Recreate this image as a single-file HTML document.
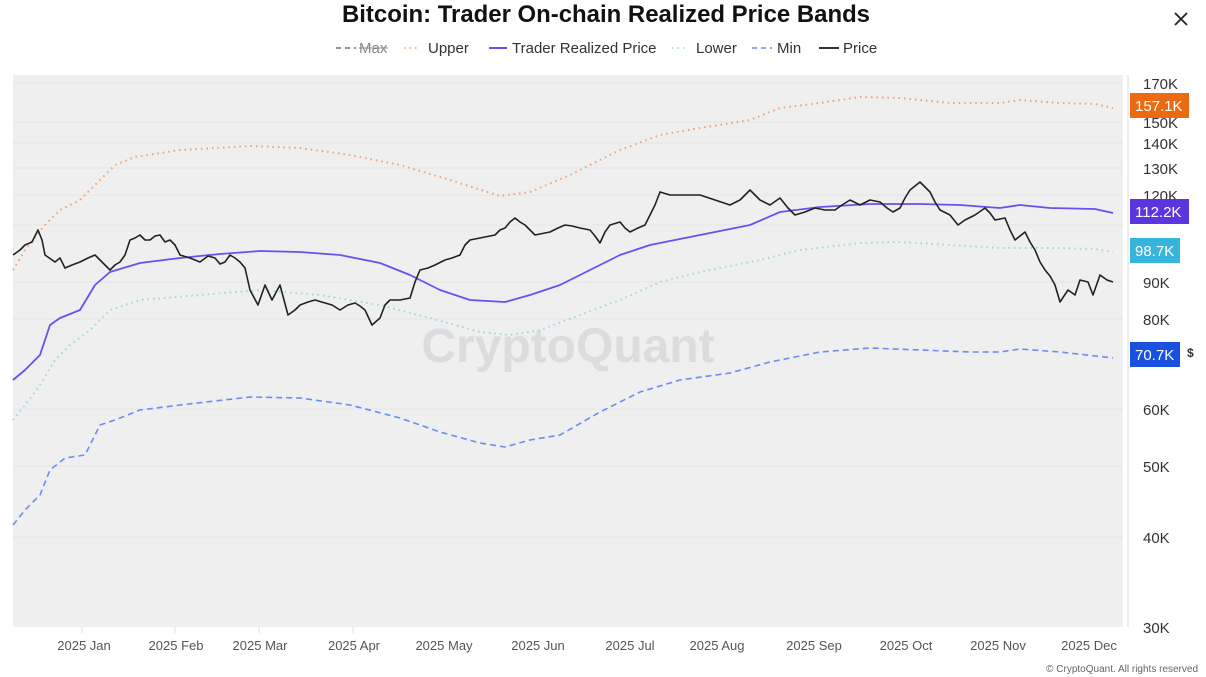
<!DOCTYPE html>
<html><head><meta charset="utf-8"><style>
html,body{margin:0;padding:0;background:#fff;width:1206px;height:677px;overflow:hidden;font-family:"Liberation Sans",sans-serif}
</style></head><body>
<svg width="1206" height="677" xmlns="http://www.w3.org/2000/svg" font-family="Liberation Sans, sans-serif">
<text x="606" y="22" text-anchor="middle" font-size="24" font-weight="bold" fill="#111" textLength="528" lengthAdjust="spacingAndGlyphs">Bitcoin: Trader On-chain Realized Price Bands</text>
<path d="M1175 13 L1187 25 M1187 13 L1175 25" stroke="#222" stroke-width="1.8"/>
<g font-size="15" fill="#333">
<line x1="336" y1="48" x2="356" y2="48" stroke="#777" stroke-width="1.5" stroke-dasharray="5,4"/>
<text x="359" y="53" fill="#888">Max</text><line x1="359" y1="48" x2="388" y2="48" stroke="#888" stroke-width="1"/>
<line x1="404" y1="48" x2="420" y2="48" stroke="#f0a070" stroke-width="1.5" stroke-dasharray="1.5,4"/>
<text x="428" y="53">Upper</text>
<line x1="489" y1="48" x2="507" y2="48" stroke="#6b4ff0" stroke-width="2"/>
<text x="512" y="53">Trader Realized Price</text>
<line x1="672" y1="48" x2="688" y2="48" stroke="#9bd6e6" stroke-width="1.5" stroke-dasharray="1.5,4"/>
<text x="696" y="53">Lower</text>
<line x1="752" y1="48" x2="772" y2="48" stroke="#6b8cf0" stroke-width="1.5" stroke-dasharray="5,4"/>
<text x="777" y="53">Min</text>
<line x1="819" y1="48" x2="839" y2="48" stroke="#333" stroke-width="2"/>
<text x="843" y="53">Price</text>
</g>
<rect x="13" y="75" width="1110" height="552" fill="#efefef"/>
<line x1="1128" y1="75" x2="1128" y2="627" stroke="#ddd"/>
<g stroke="#e4e4e4" stroke-width="1">
<line x1="13" y1="83" x2="1123" y2="83"/><line x1="13" y1="122" x2="1123" y2="122"/>
<line x1="13" y1="143" x2="1123" y2="143"/><line x1="13" y1="168" x2="1123" y2="168"/>
<line x1="13" y1="195" x2="1123" y2="195"/><line x1="13" y1="225" x2="1123" y2="225"/>
<line x1="13" y1="282" x2="1123" y2="282"/><line x1="13" y1="319" x2="1123" y2="319"/>
<line x1="13" y1="409" x2="1123" y2="409"/><line x1="13" y1="466" x2="1123" y2="466"/>
<line x1="13" y1="537" x2="1123" y2="537"/>
</g>
<text x="568" y="362" text-anchor="middle" font-size="48" fill="#dcdcde" font-weight="bold">CryptoQuant</text>
<g font-size="15" fill="#333">
<text x="1143" y="89">170K</text><text x="1143" y="128">150K</text><text x="1143" y="149">140K</text>
<text x="1143" y="174">130K</text><text x="1143" y="201">120K</text><text x="1143" y="288">90K</text>
<text x="1143" y="325">80K</text><text x="1143" y="415">60K</text><text x="1143" y="472">50K</text>
<text x="1143" y="543">40K</text><text x="1143" y="633">30K</text>
</g>
<g font-size="13" fill="#555" text-anchor="middle">
<text x="84" y="650">2025 Jan</text><text x="176" y="650">2025 Feb</text><text x="260" y="650">2025 Mar</text>
<text x="354" y="650">2025 Apr</text><text x="444" y="650">2025 May</text><text x="538" y="650">2025 Jun</text>
<text x="630" y="650">2025 Jul</text><text x="717" y="650">2025 Aug</text><text x="814" y="650">2025 Sep</text>
<text x="906" y="650">2025 Oct</text><text x="998" y="650">2025 Nov</text><text x="1089" y="650">2025 Dec</text>
</g>
<g stroke="#ddd"><line x1="82" y1="627" x2="82" y2="633"/><line x1="175" y1="627" x2="175" y2="633"/><line x1="259" y1="627" x2="259" y2="633"/><line x1="353" y1="627" x2="353" y2="633"/></g>
<text x="1198" y="672" text-anchor="end" font-size="10" fill="#666">© CryptoQuant. All rights reserved</text>
<g fill="none" stroke-linejoin="round">
<polyline stroke="#f0a070" stroke-width="2" stroke-dasharray="1.5,4" points="13,270 25,250 45,225 60,210 80,200 100,180 115,165 135,157 180,150 250,146 300,148 350,155 400,165 450,180 500,196 530,192 570,175 620,150 660,135 700,128 750,120 780,108 820,103 860,97 900,98 950,103 1000,103 1020,100 1060,103 1095,104 1113,108"/>
<polyline stroke="#9bd6e6" stroke-width="2" stroke-dasharray="1.5,4" points="13,420 25,405 40,385 55,360 70,345 90,330 110,310 140,300 200,295 260,290 320,295 380,305 430,318 480,332 510,335 540,330 580,315 620,300 660,282 700,272 760,260 800,250 860,243 900,242 950,245 1000,248 1050,248 1095,249 1113,252"/>
<polyline stroke="#6b8cf0" stroke-width="1.6" stroke-dasharray="6,4" points="13,525 25,510 40,495 50,470 65,458 85,455 100,425 115,420 140,410 180,405 250,397 300,398 350,405 400,418 440,432 480,443 505,447 530,440 560,435 600,412 640,392 680,380 730,373 770,362 820,352 870,348 920,350 970,352 1000,352 1020,349 1060,352 1113,358"/>
<polyline stroke="#6b4ff0" stroke-width="1.8" points="13,380 25,370 40,355 50,325 60,318 80,310 95,285 110,272 140,263 180,258 220,254 260,251 300,252 340,255 380,263 410,275 440,290 470,300 505,302 530,295 560,285 590,270 620,255 650,245 700,235 750,225 780,212 820,207 870,204 920,204 960,205 1000,208 1020,205 1050,208 1095,209 1113,213"/>
<polyline stroke="#222" stroke-width="1.6" points="13,255 20,250 25,245 32,242 38,230 42,240 45,255 55,262 60,258 65,268 72,265 80,262 88,258 95,255 102,262 110,270 115,265 120,262 125,255 130,240 135,238 140,235 145,240 150,240 155,236 160,235 165,242 170,240 175,245 180,255 190,258 200,262 208,256 215,258 220,264 225,262 230,255 235,258 240,262 245,268 250,290 258,305 265,285 272,300 280,285 288,315 295,310 300,305 308,302 315,300 325,303 332,305 340,310 348,305 355,303 360,306 365,310 372,325 380,318 385,305 390,300 400,300 410,298 415,282 420,270 428,268 435,265 445,260 452,258 460,255 465,245 470,240 480,238 495,235 500,230 505,228 510,222 515,218 520,222 525,225 530,230 535,235 545,233 550,232 558,228 565,225 572,226 580,228 590,230 595,236 600,243 605,232 610,225 620,222 625,228 630,232 638,228 645,225 650,215 655,205 660,192 670,195 685,195 700,195 715,200 730,205 740,200 745,195 750,190 755,195 760,200 770,205 780,198 788,208 795,215 805,212 815,208 825,210 835,210 842,205 850,200 860,205 870,200 880,202 887,208 893,212 900,208 905,198 910,190 920,182 925,187 930,192 935,202 940,210 950,215 958,225 965,220 975,215 985,208 990,213 995,220 1005,218 1010,230 1015,240 1025,232 1030,242 1035,250 1040,262 1045,270 1050,276 1055,285 1060,302 1068,290 1075,295 1080,280 1088,282 1093,295 1100,275 1107,280 1113,282"/>
</g>
<g font-size="15" fill="#fff">
<rect x="1130" y="93" width="59" height="25" fill="#ec6a12"/><text x="1135" y="111">157.1K</text>
<rect x="1130" y="199" width="59" height="25" fill="#5b35e0"/><text x="1135" y="217">112.2K</text>
<rect x="1130" y="238" width="50" height="25" fill="#35b5dc"/><text x="1135" y="256">98.7K</text>
<rect x="1130" y="342" width="50" height="25" fill="#1a50e0"/><text x="1135" y="360">70.7K</text>
</g>
<text x="1187" y="357" font-size="12" fill="#333" font-weight="bold">$</text>
</svg>
</body></html>
